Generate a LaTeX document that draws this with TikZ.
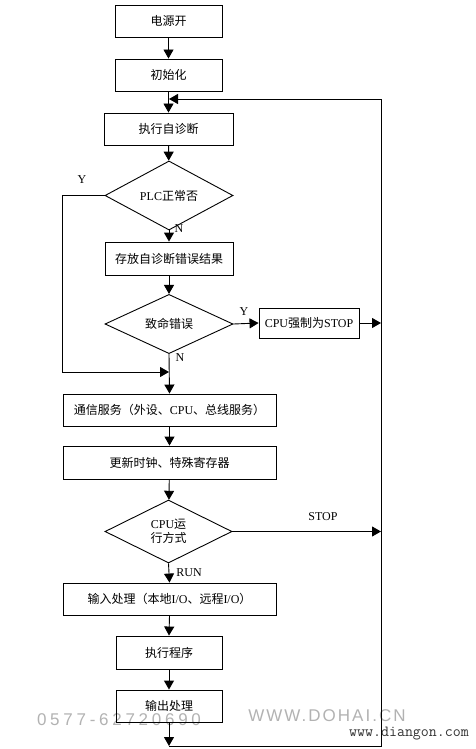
\documentclass[tikz,border=0pt]{standalone}
\usepackage{fontspec}
\setmainfont{Liberation Serif}
\newfontfamily\cjk{Noto Sans CJK SC}
\newfontfamily\wmfont[LetterSpace=22]{Liberation Sans}
\newfontfamily\wmfontb[LetterSpace=12]{Liberation Sans}
\usetikzlibrary{arrows.meta,shapes.geometric}
\newcommand{\zh}[1]{{\cjk #1}}
\begin{document}
\begin{tikzpicture}[x=1pt,y=-1pt,
  every node/.style={font=\fontsize{12}{15}\selectfont},
  box/.style={draw, line width=0.9pt, inner sep=0pt, align=center},
  dec/.style={draw, diamond, line width=0.9pt, inner sep=0pt, align=center},
  conn/.style={line width=0.9pt, -{Triangle[width=10pt,length=9pt]}},
  wire/.style={line width=0.9pt},
  lab/.style={inner sep=0pt}]
\useasboundingbox (0,0) rectangle (475,749);
% watermarks
\node[inner sep=0pt, text=black!30, font=\wmfont\fontsize{17}{17}\selectfont] (wm1) at (119,720) {0577-62720690};
\node[inner sep=0pt, text=black!30, font=\wmfontb\fontsize{17}{17}\selectfont] (wm2) at (327,716) {WWW.DOHAI.CN};
\node[inner sep=0pt, text=black!80, font=\ttfamily\fontsize{15.5}{16}\selectfont] (wm3) at (409,734) {www.diangon.com};
% nodes
\node[box, minimum width=107, minimum height=32] (b1) at (168.5,21) {\zh{电源开}};
\node[box, minimum width=107, minimum height=32] (b2) at (168.5,75) {\zh{初始化}};
\node[box, minimum width=129, minimum height=32] (b3) at (168.5,129) {\zh{执行自诊断}};
\node[dec, minimum width=128, minimum height=55] (d1) at (169,195.5) {PLC\zh{正常否}};
\node[box, minimum width=128, minimum height=33] (b4) at (169,258.5) {\zh{存放自诊断错误结果}};
\node[dec, minimum width=128, minimum height=56] (d2) at (169,324) {\zh{致命错误}};
\node[box, minimum width=100, minimum height=30] (bs) at (309,323) {CPU\zh{强制为}STOP};
\node[box, minimum width=213, minimum height=32] (b5) at (169.5,410) {\zh{通信服务（外设、}CPU\zh{、总线服务）}};
\node[box, minimum width=213, minimum height=33] (b6) at (169.5,462.5) {\zh{更新时钟、特殊寄存器}};
\node[dec, minimum width=127, minimum height=63] (d3) at (168.5,531.5) {CPU\zh{运}\\[-1pt]\zh{行方式}};
\node[box, minimum width=213, minimum height=32] (b7) at (169.5,599) {\zh{输入处理（本地}I/O\zh{、远程}I/O\zh{）}};
\node[box, minimum width=106, minimum height=33] (b8) at (169,652.5) {\zh{执行程序}};
\node[box, minimum width=106, minimum height=32] (b9) at (169,706) {\raisebox{2pt}{\zh{输出处理}}};
% coordinates
\coordinate (tm) at (169,99);
\coordinate (rt) at (381,99);
\coordinate (rb) at (381,746);
\coordinate (bm) at (169,746);
\coordinate (rs) at (381,323);
\coordinate (rr) at (381,531.5);
\coordinate (lt) at (62,195.5);
\coordinate (lb) at (62,372);
\coordinate (jn) at (169,372);
% connectors
\draw[conn] (b1) -- (b2);
\draw[conn] (b2) -- (b3);
\draw[conn] (b3) -- (d1);
\draw[conn] (d1) -- (b4);
\draw[conn] (b4) -- (d2);
\draw[conn] (d2.east) -- (bs.west);
\draw[conn] (bs.east) -- (rs);
\draw[conn] (d2.south) -- (b5.north);
\draw[wire] (d1.west) -- (lt) -- (lb);
\draw[conn] (lb) -- (jn);
\draw[conn] (b5) -- (b6);
\draw[conn] (b6) -- (d3);
\draw[conn] (d3.east) -- (rr);
\draw[conn] (d3.south) -- (b7.north);
\draw[conn] (b7.south) -- (b8.north);
\draw[conn] (b8) -- (b9);
\draw[conn] (b9.south) -- (bm);
\draw[wire] (bm) -- (rb) -- (rt);
\draw[conn] (rt) -- (tm);
% labels
\node[lab] (ly1) at (82,180) {Y};
\node[lab] (ln1) at (179,229) {N};
\node[lab] (ly2) at (244,312) {Y};
\node[lab] (ln2) at (180,358) {N};
\node[lab] (lstop) at (323,517) {STOP};
\node[lab] (lrun) at (189,573) {RUN};
\end{tikzpicture}
\end{document}
